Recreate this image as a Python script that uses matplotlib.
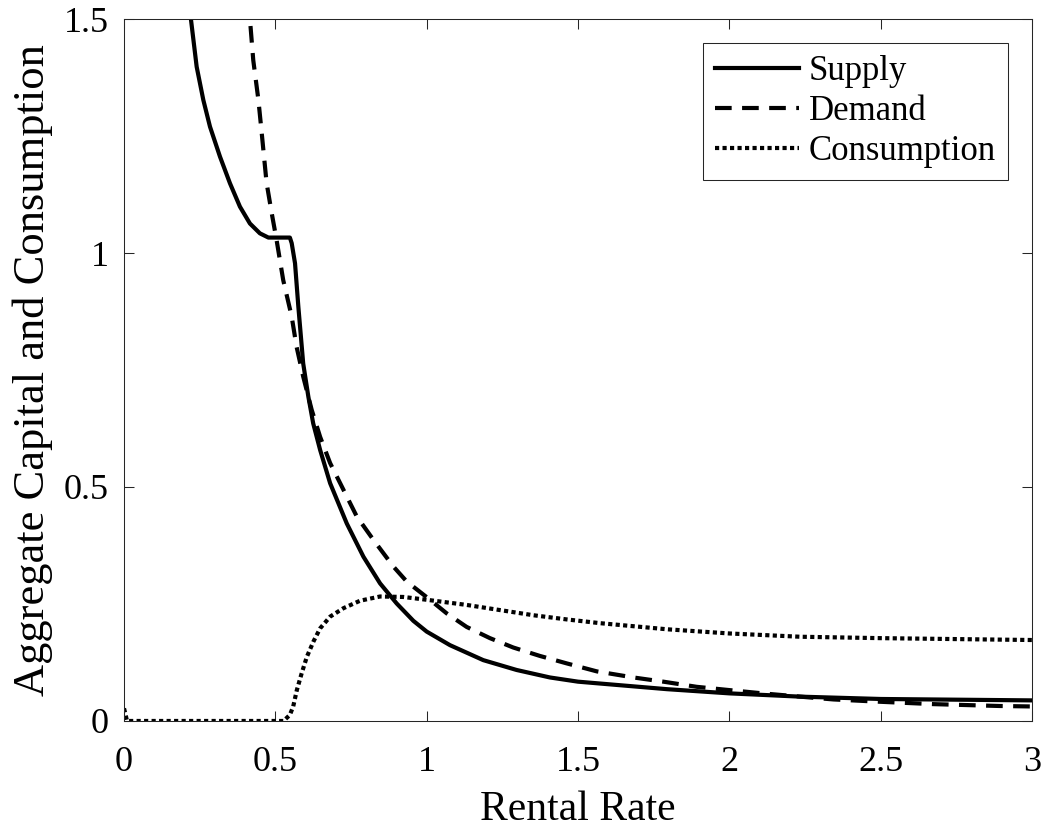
import numpy as np
import matplotlib.pyplot as plt
from matplotlib.ticker import FuncFormatter

plt.rcParams['font.family'] = ['Liberation Serif', 'DejaVu Serif']

# aggregate capital supply
supply_r = [0.212, 0.221, 0.240, 0.262, 0.284, 0.317, 0.350, 0.383, 0.416, 0.449, 0.477,
            0.548, 0.554, 0.565, 0.576, 0.592, 0.609, 0.625, 0.648, 0.681, 0.736,
            0.791, 0.846, 0.901, 0.956, 1.0, 1.077, 1.187, 1.297, 1.407, 1.5, 1.573,
            1.793, 2.0, 2.234, 2.5, 3.0]
supply_k = [1.55, 1.5, 1.398, 1.327, 1.27, 1.206, 1.149, 1.099, 1.063, 1.042, 1.033,
            1.033, 1.021, 0.978, 0.885, 0.764, 0.693, 0.636, 0.579, 0.508, 0.422,
            0.351, 0.294, 0.251, 0.214, 0.191, 0.162, 0.130, 0.109, 0.093, 0.084, 0.080,
            0.068, 0.059, 0.052, 0.047, 0.044]

# aggregate capital demand
demand_r = [0.410, 0.416, 0.427, 0.444, 0.455, 0.471, 0.488, 0.504, 0.526, 0.554, 0.570,
            0.592, 0.620, 0.648, 0.681, 0.725, 0.769, 0.824, 0.890, 0.934, 1.011,
            1.066, 1.132, 1.209, 1.286, 1.374, 1.463, 1.562, 1.683, 1.782, 1.892,
            2.0, 2.11, 2.234, 2.344, 2.5, 2.674, 2.894, 3.0]
demand_k = [1.56, 1.5, 1.412, 1.327, 1.256, 1.15, 1.085, 1.028, 0.942, 0.864, 0.80,
            0.736, 0.665, 0.607, 0.551, 0.494, 0.437, 0.387, 0.330, 0.298, 0.259,
            0.230, 0.201, 0.177, 0.157, 0.139, 0.123, 0.106, 0.093, 0.084, 0.073,
            0.066, 0.059, 0.052, 0.046, 0.041, 0.036, 0.032, 0.031]

# aggregate consumption
cons_r = [0.0, 0.01, 0.527, 0.548, 0.559, 0.571, 0.587, 0.604, 0.626, 0.648, 0.681,
          0.725, 0.780, 0.846, 0.923, 1.0, 1.132, 1.242, 1.352, 1.463, 1.573,
          1.793, 2.0, 2.234, 2.5, 3.0]
cons_c = [0.027, 0.0, 0.0, 0.013, 0.031, 0.066, 0.102, 0.137, 0.170, 0.198, 0.223,
          0.241, 0.257, 0.266, 0.265, 0.259, 0.248, 0.237, 0.226, 0.217, 0.209,
          0.196, 0.187, 0.180, 0.177, 0.173]

fig = plt.figure(figsize=(10.44, 8.31), dpi=100)
ax = fig.add_axes([0.1188, 0.1324, 0.8697, 0.8447])

ax.plot(supply_r, supply_k, color='k', lw=3, solid_joinstyle='round', label='Supply')
ax.plot(demand_r, demand_k, color='k', lw=3, dashes=(4, 2.5), label='Demand')
ax.plot(cons_r, cons_c, color='k', lw=3, dashes=(1, 0.8), label='Consumption')

ax.set_xlim(0, 3)
ax.set_ylim(0, 1.5)
ax.set_xticks(np.arange(0, 3.01, 0.5))
ax.set_yticks([0, 0.5, 1, 1.5])
fmt = FuncFormatter(lambda v, p: ('%g' % v))
ax.xaxis.set_major_formatter(fmt)
ax.yaxis.set_major_formatter(fmt)
ax.tick_params(direction='in', length=7, width=0.75, top=True, right=True,
               labelsize=26, color='0.15')
ax.tick_params(axis='x', pad=18)
ax.tick_params(axis='y', pad=11)
for s in ax.spines.values():
    s.set_linewidth(0.75)
    s.set_color('0.15')

ax.set_xlabel('Rental Rate', fontsize=30, labelpad=8)
ax.set_ylabel('Aggregate Capital and Consumption', fontsize=32, labelpad=8)

leg = ax.legend(loc='upper right', fontsize=25, handlelength=2.4, handletextpad=0.3,
                labelspacing=0.2, borderaxespad=0.68, fancybox=False, framealpha=1,
                edgecolor='0.15', borderpad=0.35)
leg.get_frame().set_linewidth(0.75)

fig.savefig('out.png', dpi=100)
